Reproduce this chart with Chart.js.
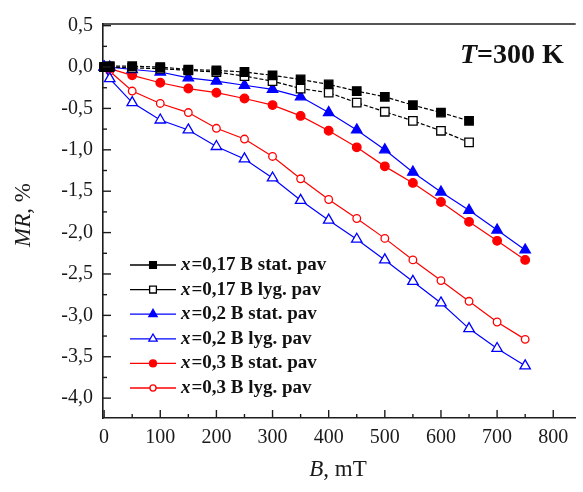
<!DOCTYPE html>
<html>
<head>
<meta charset="utf-8">
<script src="https://cdn.jsdelivr.net/npm/chart.js@4.4.0/dist/chart.umd.min.js"></script>
<style>
  html, body { margin: 0; padding: 0; background: #fff; overflow: hidden; }
</style>
</head>
<body>
<canvas id="mr-chart" width="583" height="492"></canvas>
<script>
// magnetic field, mT
const fieldB = [0, 10, 50, 100, 150, 200, 250, 300, 350, 400, 450, 500, 550, 600, 650, 700, 750];

// magnetoresistance, %
const mr017Stat = [0, 0.01, 0.01, 0.0, -0.03, -0.04, -0.06, -0.10, -0.15, -0.21, -0.29, -0.36, -0.46, -0.55, -0.65];
const mr017Lyg  = [0, 0.0, -0.01, -0.02, -0.04, -0.06, -0.11, -0.17, -0.26, -0.31, -0.43, -0.54, -0.65, -0.77, -0.91];
const mr02Stat  = [0, 0.0, -0.03, -0.06, -0.13, -0.17, -0.22, -0.27, -0.36, -0.55, -0.76, -1.00, -1.27, -1.51, -1.73, -1.97, -2.21];
const mr02Lyg   = [0, -0.14, -0.43, -0.64, -0.76, -0.96, -1.11, -1.34, -1.61, -1.85, -2.08, -2.33, -2.59, -2.85, -3.16, -3.40, -3.61];
const mr03Stat  = [0, -0.02, -0.10, -0.19, -0.26, -0.31, -0.38, -0.46, -0.59, -0.77, -0.97, -1.20, -1.40, -1.63, -1.87, -2.10, -2.33];
const mr03Lyg   = [0, -0.05, -0.29, -0.44, -0.55, -0.74, -0.87, -1.08, -1.35, -1.60, -1.83, -2.07, -2.33, -2.58, -2.83, -3.08, -3.29];

const seriesLabels = [
  'x=0,17 B stat. pav', 'x=0,17 B lyg. pav',
  'x=0,2 B stat. pav',  'x=0,2 B lyg. pav',
  'x=0,3 B stat. pav',  'x=0,3 B lyg. pav'
];

const xTicks = [0, 100, 200, 300, 400, 500, 600, 700, 800];
const yTicks = [0.5, 0.0, -0.5, -1.0, -1.5, -2.0, -2.5, -3.0, -3.5, -4.0];

const SERIF = '"Liberation Serif", "Times New Roman", serif';
const AXIS = '#1c1c1c';

function pts(vals) {
  return vals.map((v, i) => ({ x: fieldB[i], y: v }));
}

function makeSet(label, vals, color, style, filled, radius, dash) {
  return {
    label: label,
    data: pts(vals),
    borderColor: color,
    borderWidth: 1.2,
    borderDash: dash || [],
    pointStyle: style,
    pointRadius: radius,
    pointHoverRadius: radius,
    pointBorderColor: color,
    pointBackgroundColor: filled ? color : '#fff',
    pointBorderWidth: 1.3,
    tension: 0,
    fill: false,
    clip: 8
  };
}

// inward tick marks, top frame line, legend and captions
const decorPlugin = {
  id: 'decor',
  afterDraw(chart) {
    const ctx = chart.ctx;
    const area = chart.chartArea;
    const xs = chart.scales.x, ys = chart.scales.y;
    ctx.save();
    ctx.strokeStyle = AXIS;
    ctx.lineWidth = 1.4;

    // top frame
    ctx.beginPath();
    ctx.moveTo(area.left, area.top);
    ctx.lineTo(area.right, area.top);
    ctx.stroke();

    // x ticks, major + minor
    for (let i = 0; i < xTicks.length; i++) {
      const px = xs.getPixelForValue(xTicks[i]);
      ctx.beginPath(); ctx.moveTo(px, area.bottom); ctx.lineTo(px, area.bottom - 8); ctx.stroke();
      if (i < xTicks.length - 1) {
        const mx = xs.getPixelForValue((xTicks[i] + xTicks[i + 1]) / 2);
        ctx.beginPath(); ctx.moveTo(mx, area.bottom); ctx.lineTo(mx, area.bottom - 4); ctx.stroke();
      }
    }
    // y ticks, major + minor
    for (let i = 0; i < yTicks.length; i++) {
      const py = ys.getPixelForValue(yTicks[i]);
      ctx.beginPath(); ctx.moveTo(area.left, py); ctx.lineTo(area.left + 8, py); ctx.stroke();
      if (i < yTicks.length - 1) {
        const my = ys.getPixelForValue((yTicks[i] + yTicks[i + 1]) / 2);
        ctx.beginPath(); ctx.moveTo(area.left, my); ctx.lineTo(area.left + 4, my); ctx.stroke();
      }
    }

    // legend inside the plot
    const lx = 130, ly = 265, step = 24.6;
    ctx.textBaseline = 'middle';
    chart.data.datasets.forEach((ds, i) => {
      const cy = ly + i * step;
      ctx.setLineDash([]);
      ctx.strokeStyle = ds.borderColor;
      ctx.lineWidth = 1.3;
      ctx.beginPath(); ctx.moveTo(lx, cy); ctx.lineTo(lx + 46, cy); ctx.stroke();
      ctx.fillStyle = ds.pointBackgroundColor;
      ctx.strokeStyle = ds.pointBorderColor;
      ctx.lineWidth = ds.pointBorderWidth;
      Chart.helpers.drawPoint(ctx, {
        pointStyle: ds.pointStyle, radius: ds.pointRadius * 0.8,
        borderWidth: ds.pointBorderWidth, rotation: 0
      }, lx + 23, cy);

      ctx.fillStyle = '#111';
      ctx.textAlign = 'left';
      let tx = lx + 51;
      ctx.font = 'italic bold 19px ' + SERIF;
      ctx.fillText(ds.label[0], tx, cy);
      tx += ctx.measureText(ds.label[0]).width + 1;
      ctx.font = 'bold 19px ' + SERIF;
      ctx.fillText(ds.label.slice(1), tx, cy);
    });

    // temperature note
    ctx.fillStyle = '#111';
    ctx.textAlign = 'left';
    ctx.font = 'italic bold 28px ' + SERIF;
    ctx.fillText('T', 460, 56);
    let w = ctx.measureText('T').width;
    ctx.font = 'bold 28px ' + SERIF;
    ctx.fillText('=300 K', 460 + w, 56);

    // axis titles with italic symbols
    function mixed(sym, rest, cx, cy, size) {
      ctx.font = 'italic ' + size + 'px ' + SERIF;
      const w1 = ctx.measureText(sym).width;
      ctx.font = size + 'px ' + SERIF;
      const w2 = ctx.measureText(rest).width;
      let x0 = cx - (w1 + w2) / 2;
      ctx.textAlign = 'left';
      ctx.font = 'italic ' + size + 'px ' + SERIF;
      ctx.fillText(sym, x0, cy);
      ctx.font = size + 'px ' + SERIF;
      ctx.fillText(rest, x0 + w1, cy);
    }
    ctx.fillStyle = '#1a1a1a';
    mixed('B', ', mT', 338, 470, 23);
    ctx.save();
    ctx.translate(24, 215);
    ctx.rotate(-Math.PI / 2);
    mixed('MR', ', %', 0, 0, 23);
    ctx.restore();

    ctx.restore();
  }
};

const ctx = document.getElementById('mr-chart').getContext('2d');

new Chart(ctx, {
  type: 'line',
  data: {
    datasets: [
      makeSet(seriesLabels[0], mr017Stat, '#000000', 'rect', true, 6, [4, 2]),
      makeSet(seriesLabels[1], mr017Lyg, '#000000', 'rect', false, 6, [4, 2]),
      makeSet(seriesLabels[2], mr02Stat, '#0000ff', 'triangle', true, 6),
      makeSet(seriesLabels[3], mr02Lyg, '#0000ff', 'triangle', false, 6),
      makeSet(seriesLabels[4], mr03Stat, '#ff0000', 'circle', true, 4.3),
      makeSet(seriesLabels[5], mr03Lyg, '#ff0000', 'circle', false, 3.8)
    ]
  },
  options: {
    responsive: false,
    animation: false,
    layout: { padding: { top: 24, left: 0, right: 0, bottom: 0 } },
    plugins: {
      legend: { display: false },
      tooltip: { enabled: false }
    },
    scales: {
      x: {
        type: 'linear',
        min: -2,
        max: 840,
        afterBuildTicks: s => { s.ticks = xTicks.map(v => ({ value: v })); },
        afterFit: s => { s.height = 74; },
        grid: { display: false, drawTicks: false },
        border: { display: true, color: AXIS, width: 1.6 },
        ticks: {
          autoSkip: false,
          maxRotation: 0,
          padding: 8,
          color: '#1a1a1a',
          font: { family: SERIF, size: 20 }
        }
      },
      y: {
        type: 'linear',
        min: -4.24,
        max: 0.52,
        afterBuildTicks: s => { s.ticks = yTicks.map(v => ({ value: v })); },
        afterFit: s => { s.width = 103; },
        grid: { display: false, drawTicks: false },
        border: { display: true, color: AXIS, width: 1.6 },
        ticks: {
          padding: 10,
          color: '#1a1a1a',
          font: { family: SERIF, size: 20 },
          callback: v => v.toFixed(1).replace('.', ',')
        }
      }
    }
  },
  plugins: [decorPlugin]
});
</script>
</body>
</html>
